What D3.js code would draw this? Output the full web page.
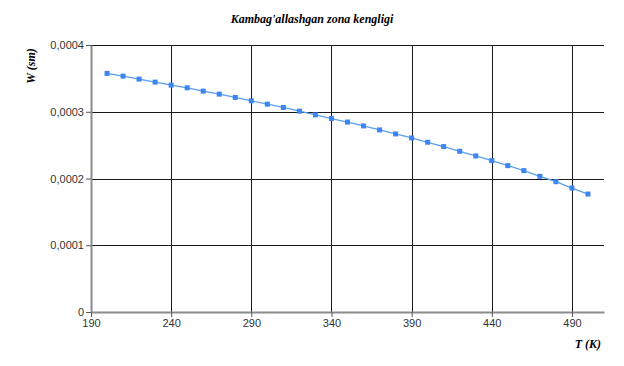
<!DOCTYPE html>
<html>
<head>
<meta charset="utf-8">
<script src="https://cdn.jsdelivr.net/npm/d3@7"></script>
<style>
body { margin: 0; background: #fff; }
</style>
</head>
<body>
<div id="chart"></div>
<script>
// temperature (K) and depletion zone width (sm)
var temps = [200, 210, 220, 230, 240, 250, 260, 270, 280, 290, 300, 310, 320, 330, 340,
             350, 360, 370, 380, 390, 400, 410, 420, 430, 440, 450, 460, 470, 480, 490, 500];
var widths = [0.0003574, 0.0003534, 0.0003489, 0.0003444, 0.0003399, 0.0003359, 0.0003309,
              0.0003264, 0.0003214, 0.0003164, 0.0003114, 0.0003064, 0.0003009, 0.0002953,
              0.0002898, 0.0002846, 0.0002788, 0.0002728, 0.0002668, 0.0002608, 0.0002543,
              0.0002478, 0.0002408, 0.0002338, 0.0002268, 0.0002193, 0.0002118, 0.0002033,
              0.0001952, 0.0001857, 0.0001767];
var xTicks = [190, 240, 290, 340, 390, 440, 490];
var yTicks = [0, 0.0001, 0.0002, 0.0003, 0.0004];
var yTickLabels = ['0', '0,0001', '0,0002', '0,0003', '0,0004'];

var W = 624, H = 366;
var pLeft = 91, pRight = 604, pTop = 45, pBottom = 312;

var svg = d3.select('#chart').append('svg')
  .attr('width', W).attr('height', H);

var x = d3.scaleLinear().domain([190, 510]).range([pLeft, pRight]);
var y = d3.scaleLinear().domain([0, 0.0004]).range([pBottom, pTop]);

// grid
svg.append('g').selectAll('line').data(xTicks.slice(1)).enter().append('line')
  .attr('x1', function (d) { return Math.round(x(d)) + 0.5; })
  .attr('x2', function (d) { return Math.round(x(d)) + 0.5; })
  .attr('y1', pTop).attr('y2', pBottom)
  .attr('stroke', '#1a1a1a').attr('stroke-width', 1);
svg.append('g').selectAll('line').data(yTicks.slice(1)).enter().append('line')
  .attr('y1', function (d) { return Math.round(y(d)) + 0.5; })
  .attr('y2', function (d) { return Math.round(y(d)) + 0.5; })
  .attr('x1', pLeft).attr('x2', pRight)
  .attr('stroke', '#1a1a1a').attr('stroke-width', 1);

// axes
var xAxis = svg.append('g').attr('transform', 'translate(0,' + pBottom + ')')
  .call(d3.axisBottom(x).tickValues(xTicks).tickSize(5).tickSizeOuter(0).tickPadding(2));
var yAxis = svg.append('g').attr('transform', 'translate(' + pLeft + ',0)')
  .call(d3.axisLeft(y).tickValues(yTicks).tickSize(5).tickSizeOuter(0).tickPadding(2)
    .tickFormat(function (d, i) { return yTickLabels[i]; }));
[xAxis, yAxis].forEach(function (a) {
  a.select('.domain').attr('stroke', '#8c8c8c').attr('stroke-width', 2);
  a.selectAll('.tick line').attr('stroke', '#555');
  a.selectAll('text').attr('fill', '#333')
    .style('font-family', 'Liberation Sans, Arial, sans-serif').style('font-size', '11px');
});

// line + markers
var pts = temps.map(function (t, i) { return [t, widths[i]]; });
svg.append('path').datum(pts)
  .attr('fill', 'none').attr('stroke', '#5a9ef0').attr('stroke-width', 1.3)
  .attr('d', d3.line().x(function (d) { return x(d[0]); }).y(function (d) { return y(d[1]); }));
svg.append('g').selectAll('rect').data(pts).enter().append('rect')
  .attr('x', function (d) { return x(d[0]) - 2.5; })
  .attr('y', function (d) { return y(d[1]) - 2.5; })
  .attr('width', 5).attr('height', 5)
  .attr('fill', '#3d86ee');

// titles
var serif = 'Liberation Serif, Times New Roman, serif';
svg.append('text').attr('x', 312).attr('y', 23).attr('text-anchor', 'middle')
  .style('font-family', serif).style('font-size', '12px')
  .style('font-style', 'italic').style('font-weight', 'bold')
  .text("Kambag'allashgan zona kengligi");
svg.append('text').attr('transform', 'translate(35,66) rotate(-90)').attr('text-anchor', 'middle')
  .style('font-family', serif).style('font-size', '12px')
  .style('font-style', 'italic').style('font-weight', 'bold')
  .text('W (sm)');
svg.append('text').attr('x', 601).attr('y', 348).attr('text-anchor', 'end')
  .style('font-family', serif).style('font-size', '12px')
  .style('font-style', 'italic').style('font-weight', 'bold')
  .text('T (K)');
</script>
</body>
</html>
